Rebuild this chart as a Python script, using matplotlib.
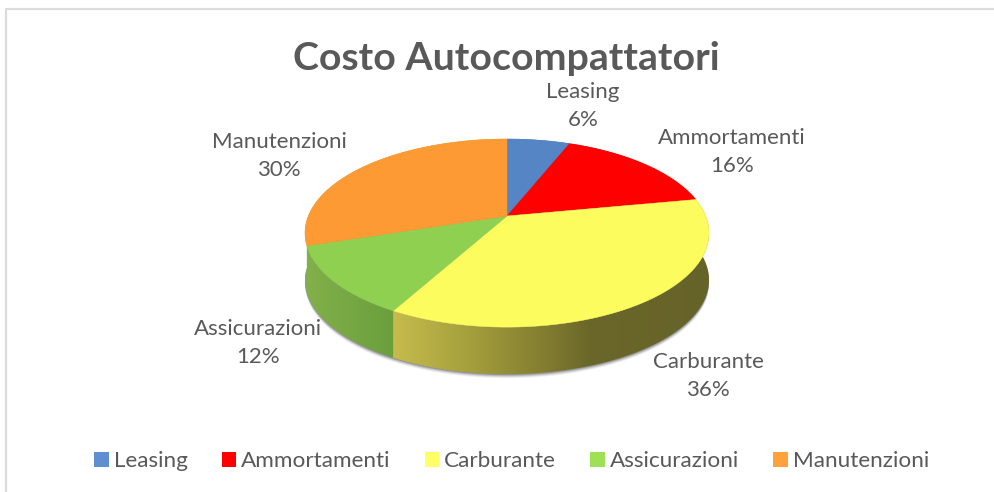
import numpy as np
import matplotlib
matplotlib.use("Agg")
import matplotlib.pyplot as plt
from matplotlib.patches import Polygon, Rectangle
from matplotlib.colors import LinearSegmentedColormap

categories = ["Leasing", "Ammortamenti", "Carburante", "Assicurazioni", "Manutenzioni"]
values = [6, 16, 36, 12, 30]
colors = ["#5585c5", "#ff0000", "#fcfc5e", "#90d050", "#fd9a33"]
legend_colors = ["#5f8fd0", "#ff0000", "#ffff66", "#9ee056", "#ffa23c"]
label_pos = [(583, 106), (732, 152), (708, 376), (258, 343), (279, 156)]

W, H = 995, 492
TEXT = "#595959"
plt.rcParams["font.family"] = ["Lato", "DejaVu Sans"]

fig = plt.figure(figsize=(W / 100, H / 100), dpi=100, facecolor="white")
ax = fig.add_axes([0, 0, 1, 1])
ax.set_xlim(0, W)
ax.set_ylim(H, 0)
ax.axis("off")

# chart frame: only top and left edges are visible in the crop
ax.plot([6, 6, W], [H, 9, 9], color="#dcdcdc", lw=1.6, zorder=1)

# perspective projection of the unit-circle pie
CX, CY, A, B, K, DEPTH = 507, 216, 198.7, 91, 0.181, 47


def project(x, y):
    d = 1 + K * y
    return CX + A * x / d, CY - B * y / d


def arc(f0, f1, n=200):
    th = 2 * np.pi * np.linspace(f0, f1, n)
    return project(np.sin(th), np.cos(th))


fractions = np.cumsum([0] + values) / sum(values)

# soft shadow under the body
fx, fy = arc(0, 1, 400)
for off, alpha in [(4, 0.08), (3, 0.12), (2, 0.18), (1, 0.26)]:
    ax.add_patch(Polygon(np.c_[fx, fy + DEPTH + off], fc="#303030", ec="none",
                         alpha=alpha, zorder=2))

# side walls with horizontal gradients
side_ramps = {
    2: [(0.0, "#c6bc4c"), (0.22, "#a8a23e"), (0.5, "#7f7a2f"), (0.62, "#6b6729"), (1.0, "#66632a")],
    3: [(0.0, "#82b04a"), (1.0, "#6a9f3d")],
    4: [(0.0, "#82b04a"), (1.0, "#82b04a")],
    0: [(0.0, "#3f6496"), (1.0, "#3f6496")],
    1: [(0.0, "#8a0000"), (1.0, "#8a0000")],
}
for i in [0, 1, 4, 3, 2]:
    xs, ys = arc(fractions[i], fractions[i + 1])
    pts = np.r_[np.c_[xs, ys], np.c_[xs, ys + DEPTH][::-1]]
    poly = Polygon(pts, fc="none", ec="none", transform=ax.transData)
    ax.add_patch(poly)
    cmap = LinearSegmentedColormap.from_list(f"side{i}", side_ramps[i])
    grad = np.linspace(0, 1, 256)[None, :]
    im = ax.imshow(grad, cmap=cmap, aspect="auto", zorder=3,
                   extent=[xs.min(), xs.max(), ys.max() + DEPTH, ys.min()])
    im.set_clip_path(poly)
ax.set_xlim(0, W)
ax.set_ylim(H, 0)

# top face
for i, c in enumerate(colors):
    xs, ys = arc(fractions[i], fractions[i + 1])
    pts = np.r_[[[CX, CY]], np.c_[xs, ys]]
    ax.add_patch(Polygon(pts, fc=c, ec=c, lw=0.3, zorder=4))

ax.text(506, 58, "Costo Autocompattatori", ha="center", va="center",
        fontsize=28.3, fontweight="bold", color=TEXT, zorder=6)

for name, val, (x, y) in zip(categories, values, label_pos):
    ax.text(x, y, f"{name}\n{val}%", ha="center", va="center", fontsize=16,
            color=TEXT, linespacing=1.45, zorder=6)

handles = [Rectangle((0, 0), 1, 1, fc=c, ec="none") for c in legend_colors]
leg = ax.legend(handles, categories, ncol=5, loc="center", bbox_to_anchor=(511.5 / W, 1 - 461 / H),
                frameon=False, fontsize=16.2, handlelength=0.65, handleheight=0.65,
                handletextpad=0.22, columnspacing=1.51, labelcolor=TEXT, borderpad=0)

fig.savefig("out.png", dpi=100, facecolor="white")
